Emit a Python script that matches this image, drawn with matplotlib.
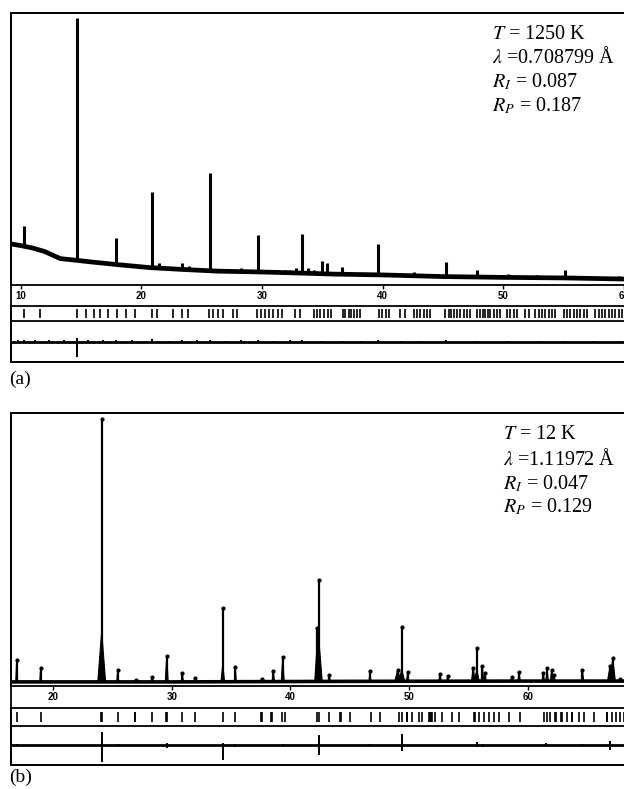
import numpy as np
import matplotlib
matplotlib.use("Agg")
import matplotlib.pyplot as plt

plt.rcParams['font.family'] = ['Liberation Serif', 'DejaVu Serif']
plt.rcParams['mathtext.fontset'] = 'stix'

W, H, DPI = 624, 789, 100

# ---------------- Panel (a): T = 1250 K ----------------
a_ticks = [10, 20, 30, 40, 50, 60]
a_bg_x = [9.2, 10.0, 11.0, 12.0, 12.8, 13.3, 14.4, 15.8, 18.0, 20.7, 23.5, 26.3,
          29.8, 33.1, 36.0, 40.0, 45.0, 50.0, 55.0, 60.0, 61.0]
a_bg_y = [151, 145, 136, 123, 107, 97, 92, 85, 75, 64, 57, 51,
          48, 44, 40, 37, 31, 28, 26, 22, 22]
a_peak_pos = [10.3, 14.65, 17.25, 17.95, 20.9, 21.5, 23.4, 24.0, 25.7, 28.3, 29.7,
              30.25, 31.9, 32.3, 32.8, 33.3, 33.8, 34.3, 34.95, 35.4, 36.6, 38.2,
              39.65, 42.6, 45.25, 47.8, 50.4, 52.8, 55.1, 59.6]
a_peak_top = [217, 980, 86, 174, 342, 81, 81, 70, 413, 62, 184,
              55, 55, 55, 62, 186, 62, 55, 88, 81, 67, 44,
              150, 49, 86, 55, 40, 37, 55, 33]
a_refl = [10.29, 11.62, 14.65, 15.4, 16.1, 16.6, 17.27, 18.02, 18.75, 19.5,
          20.87, 21.28, 22.66, 23.36, 23.9, 25.62, 25.97, 26.39, 26.8, 27.63, 27.96,
          29.57, 29.9, 30.26, 30.61, 30.95, 31.31, 31.64, 32.74, 33.15,
          34.29, 34.57, 34.84, 35.17, 35.48, 35.75,
          36.69, 36.91, 37.19, 37.41, 37.63, 37.88, 38.15,
          39.68, 39.95, 40.28, 40.56, 41.47, 41.83,
          42.58, 42.85, 43.12, 43.41, 43.68, 43.95,
          45.2, 45.48, 45.69, 45.94, 46.19, 46.44, 46.72, 46.99, 47.27,
          47.82, 48.09, 48.32, 48.51, 48.73, 48.92, 49.2, 49.48, 49.75,
          50.31, 50.58, 50.86, 51.13, 51.82, 52.15,
          52.65, 52.93, 53.21, 53.48, 53.76, 54.03, 54.31,
          55.0, 55.28, 55.55, 55.83, 56.1, 56.38, 56.66, 56.93,
          57.62, 57.9, 58.18, 58.45, 58.73, 59.0, 59.28, 59.56, 59.84, 60.1, 60.4]
a_diff_pos = [9.8, 10.3, 11.2, 12.4, 13.6, 14.65, 15.6, 16.8, 17.95, 19.2, 20.9,
              22.3, 23.4, 24.6, 25.7, 27.0, 28.3, 29.7, 31.0, 32.3, 33.3, 35.0,
              36.6, 38.2, 39.65, 41.5, 43.0, 45.25, 47.8, 50.4, 53.0, 55.1, 57.5, 59.6]
a_diff_hi = [5, 8, 6, 5, 5, 17, 6, 5, 8, 5, 10,
             4, 5, 5, 8, 4, 5, 6, 4, 5, 6, 4,
             4, 3, 5, 3, 4, 5, 4, 3, 3, 4, 3, 3]
a_diff_lo = [-4, -6, -5, -4, -4, -76, -5, -4, -6, -4, -8,
             -4, -4, -4, -7, -3, -4, -5, -3, -4, -5, -3,
             -3, -3, -4, -3, -3, -4, -3, -3, -3, -3, -3, -3]

# ---------------- Panel (b): T = 12 K ----------------
b_ticks = [20, 30, 40, 50, 60]
b_bg_x = [16.4, 30.0, 45.0, 60.0, 69.2]
b_bg_y = [15, 15, 17, 18, 18]
b_peak_pos = [16.94, 18.96, 24.1, 25.45, 27.0, 28.37, 29.58, 30.9, 32.0, 34.3,
              35.36, 37.58, 38.56, 39.35, 42.2, 42.43, 43.28, 46.7, 49.04, 49.38,
              49.88, 52.6, 53.25, 55.4, 55.7, 56.17, 56.4, 58.64, 59.26, 61.3,
              61.62, 62.0, 62.2, 64.6, 66.93, 67.15, 67.77]
b_peak_top = [95, 67, 977, 59, 22, 33, 110, 48, 29, 285,
              71, 26, 56, 105, 212, 388, 40, 56, 59, 217,
              52, 44, 38, 66, 138, 73, 48, 32, 52, 49,
              65, 59, 40, 59, 73, 101, 25]
b_peak_body = [95, 67, 200, 59, 22, 33, 110, 48, 29, 80,
               71, 26, 56, 105, 120, 150, 40, 56, 59, 60,
               52, 44, 38, 66, 60, 73, 48, 32, 52, 49,
               65, 59, 40, 59, 73, 101, 25]
b_peak_hw = [0.08, 0.08, 0.33, 0.08, 0.08, 0.08, 0.12, 0.08, 0.08, 0.15,
             0.08, 0.08, 0.1, 0.12, 0.15, 0.25, 0.08, 0.08, 0.25, 0.25,
             0.1, 0.1, 0.08, 0.15, 0.2, 0.1, 0.08, 0.1, 0.1, 0.1,
             0.1, 0.1, 0.08, 0.1, 0.22, 0.22, 0.08]
b_refl = [16.99, 18.96, 24.07, 24.13, 25.45, 26.87, 26.93, 28.3, 29.55, 29.61,
          30.9, 32.0, 34.3, 35.36, 37.55, 37.61, 38.39, 38.45, 39.27, 39.55,
          42.24, 42.44, 43.28, 44.17, 44.23, 45.05, 46.82, 47.57,
          49.17, 49.4, 49.79, 49.85, 50.24, 50.8, 51.08, 51.7, 51.78, 51.86, 51.92,
          52.2, 52.77, 53.6, 54.18, 55.49, 55.55, 55.86, 56.28, 56.7, 57.13, 57.55,
          58.39, 59.37, 61.34, 61.62, 61.9, 62.29, 62.35, 62.79, 62.85, 63.3,
          63.69, 63.75, 64.29, 64.71, 65.55, 66.64, 66.7, 67.09, 67.43, 67.79, 68.08]
b_diff_pos = [16.94, 18.96, 24.1, 25.45, 29.58, 30.9, 34.3, 35.36, 39.35, 42.43,
              46.7, 49.38, 55.7, 56.2, 61.5, 64.6, 66.95]
b_diff_hi = [5, 4, 69, 5, 12, 4, 12, 5, 6, 53, 5, 56, 19, 8, 10, 6, 22]
b_diff_lo = [-4, -3, -86, -4, -12, -3, -75, -6, -5, -49, -4, -29, -8, -6, -5, -4, -24]


def add_ax(fig, left, right, top, bottom):
    ax = fig.add_axes([left / W, 1 - bottom / H, (right - left) / W, (bottom - top) / H])
    ax.set_facecolor('none')
    for s in ax.spines.values():
        s.set_linewidth(1.3)
    return ax


def draw_panel(fig, geo, xlim, ticks, bg_x, bg_y, peaks, refl, dpos, dhi, dlo, kind):
    left, right, top, base, rtop, rbot, bottom = geo
    frame = add_ax(fig, left, right, top, bottom)
    frame.set_xticks([]); frame.set_yticks([])

    ax = add_ax(fig, left, right, top, base)
    ax.set_xlim(*xlim); ax.set_ylim(0, 1000)
    ax.set_yticks([])
    ax.set_xticks(ticks)
    ax.set_xticklabels([str(t) for t in ticks], fontfamily='Liberation Sans',
                       fontweight='bold', fontsize=7)
    ax.tick_params(axis='x', direction='out', length=3, width=1, pad=1.5)

    ax.plot(bg_x, bg_y, color='black', lw=3.4 if kind == 'a' else 2.6,
            solid_capstyle='butt', zorder=3)
    if kind == 'a':
        pos, tops = peaks
        bases = np.interp(pos, bg_x, bg_y)
        ax.vlines(pos, bases, tops, color='black', lw=2.2, zorder=3)
    else:
        pos, tops, body, hw = peaks
        bases = np.interp(pos, bg_x, bg_y)
        for x, t, bd, w, b0 in zip(pos, tops, body, hw, bases):
            ax.fill([x - w, x, x + w], [b0, bd, b0], color='black', lw=0.8,
                    edgecolor='black', zorder=3)
        ax.vlines(pos, bases, tops, color='black', lw=1.6, zorder=3)
        ax.plot(pos, tops, ls='none', marker='o', ms=2.0, color='black', zorder=4)

    axr = add_ax(fig, left, right, rtop, rbot)
    axr.set_xlim(*xlim); axr.set_ylim(0, 1)
    axr.set_xticks([]); axr.set_yticks([])
    axr.vlines(refl, 0.22, 0.78, color='black', lw=1.2)

    axd = add_ax(fig, left, right, rbot, bottom)
    axd.set_xlim(*xlim); axd.set_ylim(-100, 100)
    axd.set_xticks([]); axd.set_yticks([])
    axd.axhline(0, color='black', lw=2.0)
    axd.vlines(dpos, dlo, dhi, color='black', lw=1.4)
    axd.spines['top'].set_visible(False)


fig = plt.figure(figsize=(W / DPI, H / DPI), dpi=DPI)

draw_panel(fig, (11, 636, 13, 285, 306, 321, 362), (9.21, 61.0), a_ticks,
           a_bg_x, a_bg_y, (a_peak_pos, a_peak_top), a_refl,
           a_diff_pos, a_diff_hi, a_diff_lo, 'a')
draw_panel(fig, (11, 636, 413, 686, 707.7, 725.7, 765), (16.46, 69.11), b_ticks,
           b_bg_x, b_bg_y, (b_peak_pos, b_peak_top, b_peak_body, b_peak_hw), b_refl,
           b_diff_pos, b_diff_hi, b_diff_lo, 'b')

fs = 14.5
a_text = [r'$T$ = 1250 K', r'$\lambda$ =0.708799 Å', r'$R_I$ = 0.087', r'$R_P$ = 0.187']
b_text = [r'$T$ = 12 K', r'$\lambda$ =1.11972 Å', r'$R_I$ = 0.047', r'$R_P$ = 0.129']
for s, yb in zip(a_text, [39.3, 63.3, 87.3, 111]):
    fig.text(491.7 / W, 1 - yb / H, s, fontsize=fs, va='baseline', ha='left')
for s, yb in zip(b_text, [439.3, 465, 489, 512.7]):
    fig.text(503.3 / W, 1 - yb / H, s, fontsize=fs, va='baseline', ha='left')

fig.text(9 / W, 1 - 383.5 / H, '(a)', fontsize=14, va='baseline', ha='left')
fig.text(9 / W, 1 - 781.7 / H, '(b)', fontsize=14, va='baseline', ha='left')

fig.savefig('out.png', dpi=DPI)
